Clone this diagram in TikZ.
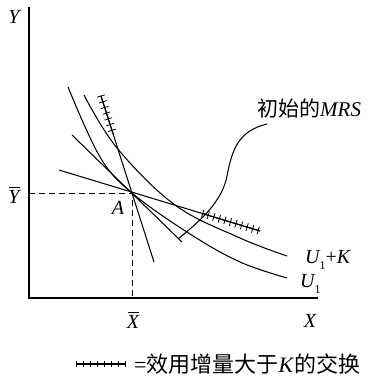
\documentclass[tikz,border=0pt]{standalone}
\usepackage{fontspec}
\setmainfont{Liberation Serif}
\newfontfamily\cjk{Noto Sans CJK SC}
\usetikzlibrary{calc}
\usetikzlibrary{decorations.markings}
\newcommand{\barlbl}[1]{\setbox0\hbox{#1}\rlap{\hspace{1pt}\raisebox{\dimexpr\ht0+2pt\relax}{\rule{\dimexpr\wd0-1pt\relax}{0.9pt}}}\box0}
\tikzset{axis/.style = {line width = 1.7pt}}
\tikzset{curve/.style = {line width = 1.05pt}}
\tikzset{guide/.style = {line width = 1pt, dash pattern = on 6pt off 4pt}}
\tikzset{hatched/.style 2 args = {curve, postaction = {decorate, decoration = {markings,
      mark = between positions 0 and 1 step #1 with {\draw [line width = 0.8pt] (0, -#2) -- (0, #2);}}}}}
\tikzset{lbl/.style = {font = \fontsize{20}{22}\selectfont\itshape, inner sep = 0}}

\begin{document}
\begin{tikzpicture}[x = 1pt, y = -1pt]
      \useasboundingbox (0, 0) rectangle (370, 381);

      \coordinate (O) at (29, 298);
      \coordinate (ytop) at (29, 7);
      \coordinate (xend) at (318, 298);
      \coordinate (A) at (132, 193);

      \draw [axis] (ytop) -- (O) -- (xend);
      \draw [guide] (A -| O) -- (A) -- (A |- O);

      % indifference curves
      \draw [curve] plot [smooth, tension = 0.6] coordinates {(68, 87) (100, 157) (A) (190, 234) (240, 262) (287, 278)};
      \draw [curve] plot [smooth, tension = 0.6] coordinates {(84, 95) (117, 148) (175, 205) (240, 238) (287, 256)};

      % lines through A
      \coordinate (st1) at (101, 96);
      \coordinate (st2) at (154, 262);
      \coordinate (tg1) at (72, 135);
      \coordinate (tg2) at (182, 242);
      \coordinate (fl1) at (59, 170);
      \coordinate (fl2) at (260, 231);

      \draw [curve] (st1) -- (st2);
      \draw [curve] (tg1) -- (tg2);
      \draw [curve] (fl1) -- (fl2);
      \draw [hatched = {6pt}{4pt}] (st1) -- ($(st1)!0.23!(st2)$);
      \draw [hatched = {5.8pt}{4pt}] ($(fl1)!0.715!(fl2)$) -- (fl2);

      % labels
      \node [lbl] (ylab) at (14, 17) {Y};
      \node [lbl] (xlab) at (310, 321) {X};
      \node [lbl] (ybar) at (14, 195) {\barlbl{Y}};
      \node [lbl] (xbar) at (133, 320) {\barlbl{X}};
      \node [lbl] (alab) at (118, 208) {A};
      \node [lbl, anchor = west] (uk) at (305, 260) {U\raisebox{-6pt}{\upshape\fontsize{12}{12}\selectfont 1}\upshape +\itshape K};
      \node [lbl, anchor = west] (u1) at (300, 284) {U\raisebox{-6pt}{\upshape\fontsize{12}{12}\selectfont 1}};

      \node [lbl, anchor = west, font = \fontsize{21}{23}\selectfont\itshape] (mrs) at (257, 108)
            {{\upshape\cjk 初始的}MRS};
      \coordinate (ldr) at (267, 124);
      \coordinate (tip) at (178, 239);
      \draw [curve] (ldr) .. controls (238, 131) and (232, 150) .. (227, 176)
                          .. controls (222, 202) and (200, 221) .. (tip);

      % legend
      \coordinate (lg1) at (76, 364);
      \coordinate (lg2) at (125, 364);
      \draw [hatched = {7pt}{3pt}] (lg1) -- (lg2);
      \node [lbl, anchor = west, font = \fontsize{22}{24}\selectfont] (key) at (134, 364)
            {={\cjk 效用增量大于}\textit{K}{\cjk 的交换}};
    \end{tikzpicture}
\end{document}
